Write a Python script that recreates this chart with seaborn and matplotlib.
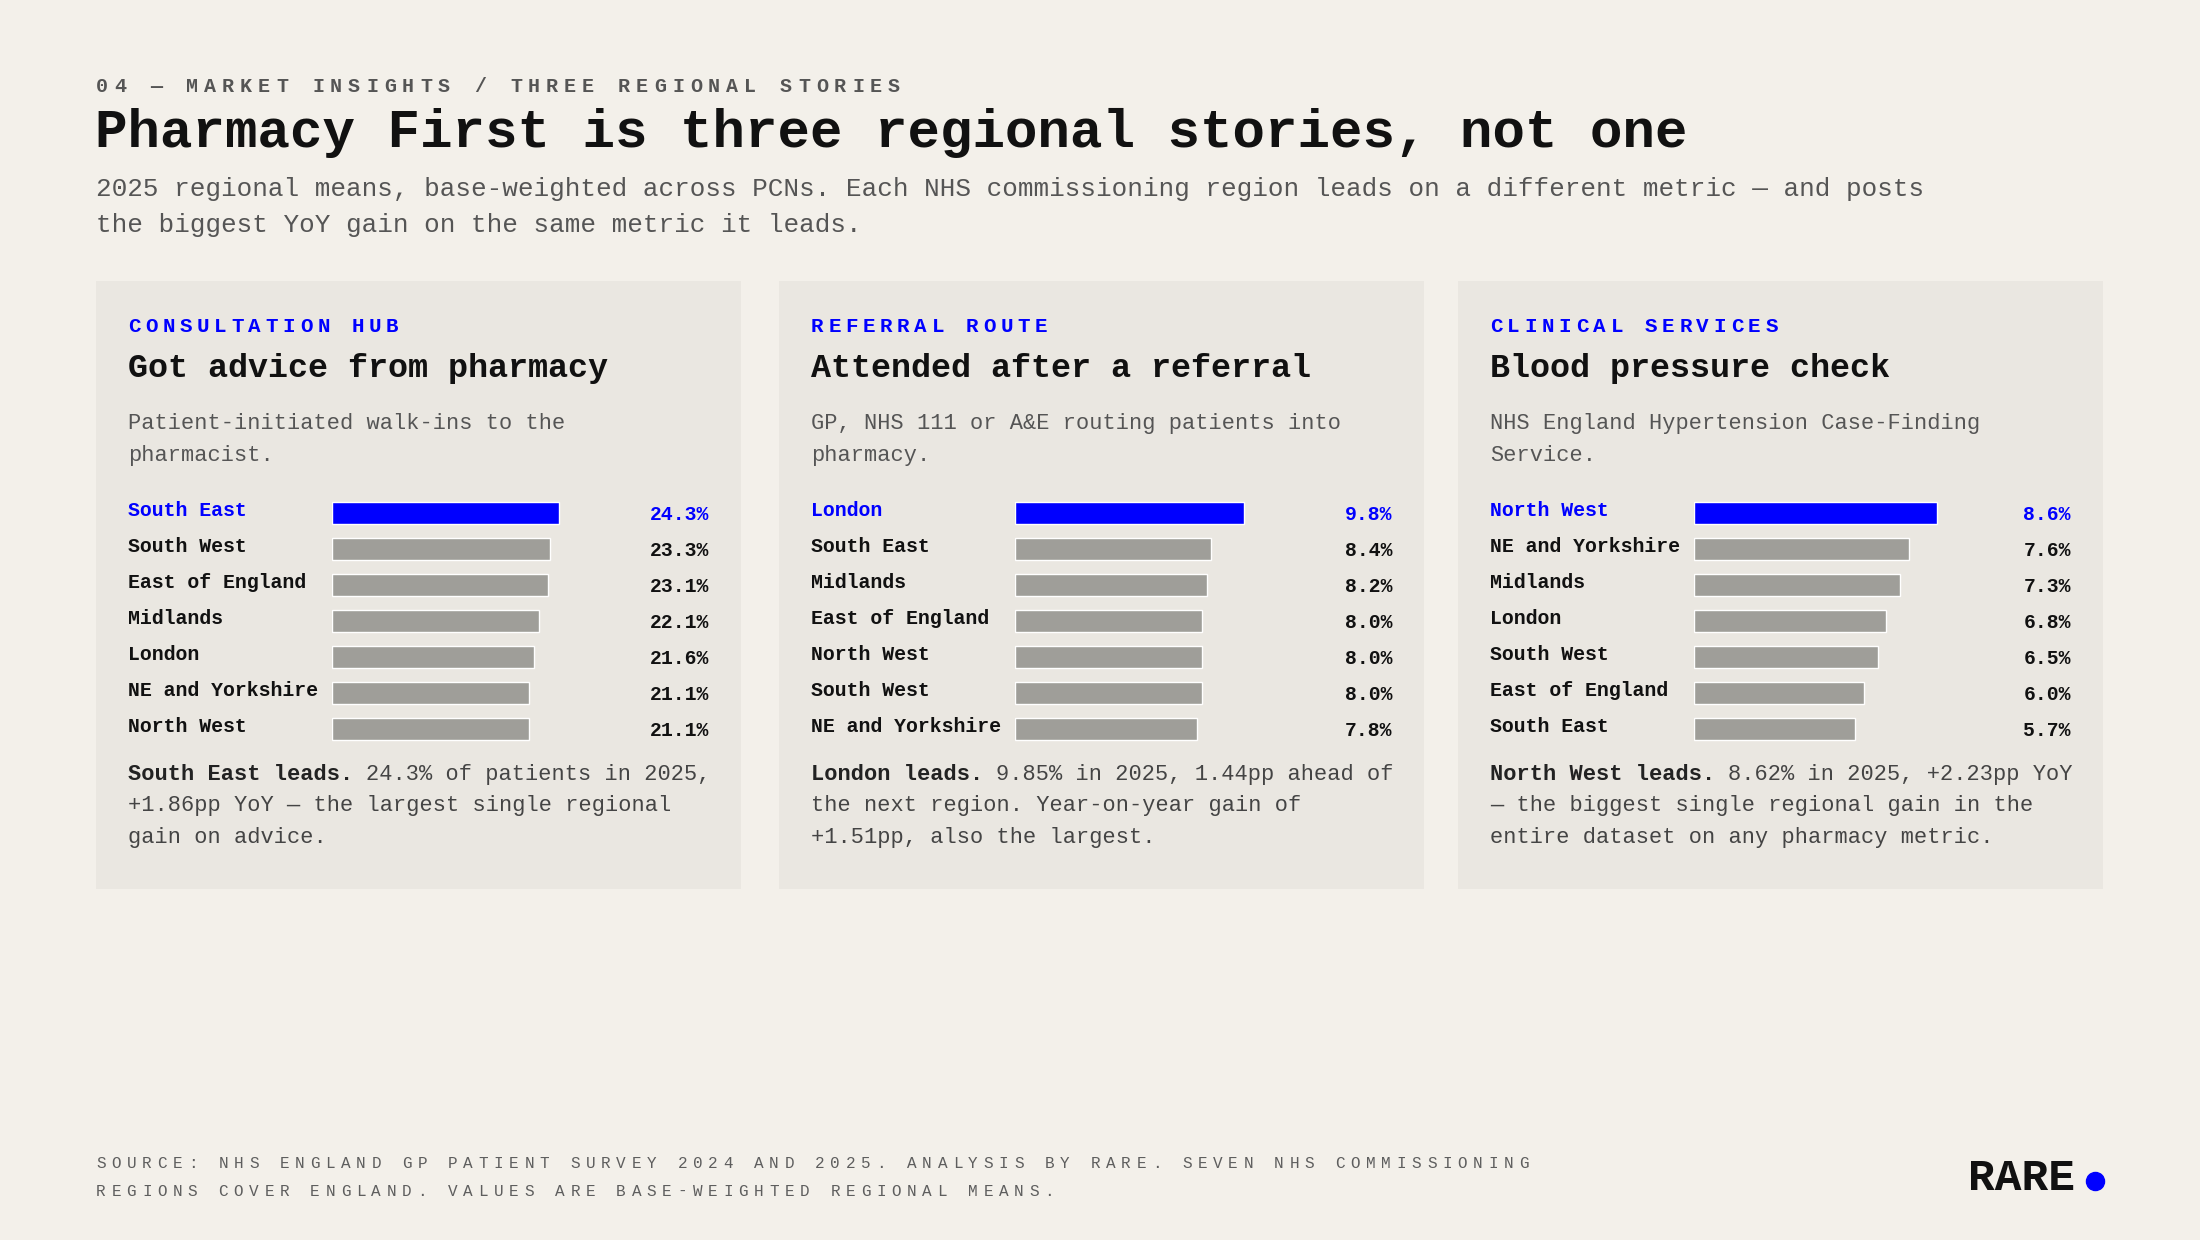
import matplotlib
matplotlib.use("Agg")
import matplotlib.pyplot as plt
import matplotlib.transforms as mtransforms
from matplotlib.lines import Line2D
from matplotlib.patches import Rectangle
import pandas as pd
import seaborn as sns

# %%
# data — 2025 regional means per card
advice_regions = ["South East", "South West", "East of England", "Midlands",
                  "London", "NE and Yorkshire", "North West"]
advice_values = [24.3, 23.3, 23.1, 22.1, 21.6, 21.1, 21.1]

referral_regions = ["London", "South East", "Midlands", "East of England",
                    "North West", "South West", "NE and Yorkshire"]
referral_values = [9.8, 8.4, 8.2, 8.0, 8.0, 8.0, 7.8]

bp_regions = ["North West", "NE and Yorkshire", "Midlands", "London",
              "South West", "East of England", "South East"]
bp_values = [8.6, 7.6, 7.3, 6.8, 6.5, 6.0, 5.7]

eyebrows = ["CONSULTATION HUB", "REFERRAL ROUTE", "CLINICAL SERVICES"]
headings = ["Got advice from pharmacy", "Attended after a referral", "Blood pressure check"]
descriptions = [
    ["Patient-initiated walk-ins to the", "pharmacist."],
    ["GP, NHS 111 or A&E routing patients into", "pharmacy."],
    ["NHS England Hypertension Case-Finding", "Service."],
]
lead_bold = ["South East leads.", "London leads.", "North West leads."]
lead_rest = [
    ["24.3% of patients in 2025,", "+1.86pp YoY — the largest single regional", "gain on advice."],
    ["9.85% in 2025, 1.44pp ahead of", "the next region. Year-on-year gain of", "+1.51pp, also the largest."],
    ["8.62% in 2025, +2.23pp YoY", "— the biggest single regional gain in the", "entire dataset on any pharmacy metric."],
]

kicker = "04 — MARKET INSIGHTS / THREE REGIONAL STORIES"
title = "Pharmacy First is three regional stories, not one"
subtitle = ["2025 regional means, base-weighted across PCNs. Each NHS commissioning region leads on a different metric — and posts",
            "the biggest YoY gain on the same metric it leads."]
source = ["SOURCE: NHS ENGLAND GP PATIENT SURVEY 2024 AND 2025. ANALYSIS BY RARE. SEVEN NHS COMMISSIONING",
          "REGIONS COVER ENGLAND. VALUES ARE BASE-WEIGHTED REGIONAL MEANS."]

# %%
BG = "#F3F0EA"
CARD = "#EAE7E1"
BLUE = "#0000FF"
GREY_BAR = "#9F9E99"
INK = "#111111"
MUTED = "#555555"

W, H = 2200, 1240
sns.set_theme(style="white")
plt.rcParams["font.family"] = ["Liberation Mono", "DejaVu Sans Mono", "DejaVu Sans"]


def fx(x):
    return x / W


def fy(y):
    return 1 - y / H


fig = plt.figure(figsize=(22, 12.4), dpi=100, facecolor=BG)


def spaced(x, y, s, size, advance, **kw):
    # letter-spaced caps: one glyph per step
    for i, ch in enumerate(s):
        if ch != " ":
            fig.text(fx(x + i * advance), fy(y), ch, fontsize=size,
                     ha="left", va="baseline", **kw)


# header
spaced(96, 92, kicker, 14.4, 18.0, color=MUTED, fontweight="bold")
fig.text(fx(95), fy(147), title, fontsize=39, fontweight="bold", color=INK, va="baseline")
for i, line in enumerate(subtitle):
    fig.text(fx(96), fy(196 + 36 * i), line, fontsize=18.7, color=MUTED, va="baseline")

# %%
cards = [
    (advice_regions, advice_values),
    (referral_regions, referral_values),
    (bp_regions, bp_values),
]
card_left = [96, 779, 1458]
bar_fill = [0.747, 0.753, 0.80]   # share of the bar track the leader fills
card_w = 645
top, bottom = 281, 889

for k, (regions, values) in enumerate(cards):
    L = card_left[k]
    fig.add_artist(Rectangle((fx(L), fy(bottom)), card_w / W, (bottom - top) / H,
                             transform=fig.transFigure, facecolor=CARD, edgecolor="none", zorder=0))

    spaced(L + 32, 332, eyebrows[k], 15, 17.2, color=BLUE, fontweight="bold")
    fig.text(fx(L + 32), fy(377), headings[k], fontsize=24, fontweight="bold", color=INK, va="baseline")
    for i, line in enumerate(descriptions[k]):
        fig.text(fx(L + 32), fy(429 + 32 * i), line, fontsize=15.8, color=MUTED, va="baseline")

    # bars
    df = pd.DataFrame({"region": regions, "value": values})
    colors = {r: (BLUE if i == 0 else GREY_BAR) for i, r in enumerate(regions)}
    ax = fig.add_axes([fx(L + 236), fy(747), 304 / W, 252 / H])
    sns.barplot(data=df, x="value", y="region", hue="region", palette=colors,
                orient="h", width=22 / 36, legend=False, ax=ax, saturation=1)
    ax.set_xlim(0, max(values) / bar_fill[k])
    ax.set_ylim(len(regions) - 0.5, -0.5)
    ax.axis("off")

    tr = mtransforms.blended_transform_factory(fig.transFigure, ax.transData)
    for i, (r, v) in enumerate(zip(regions, values)):
        c = BLUE if i == 0 else INK
        ax.text(fx(L + 32), i + 0.08, r, transform=tr, fontsize=14.3, fontweight="bold",
                color=c, ha="left", va="baseline")
        ax.text(fx(L + 613), i + 0.19, f"{v:.1f}%", transform=tr, fontsize=14.2,
                fontweight="bold", color=c, ha="right", va="baseline")

    # takeaway
    adv = 0.6 * 22
    fig.text(fx(L + 32), fy(780), lead_bold[k], fontsize=15.8, fontweight="bold",
             color="#222222", va="baseline")
    for i, line in enumerate(lead_rest[k]):
        x0 = L + 32 + (len(lead_bold[k]) + 1) * adv if i == 0 else L + 32
        fig.text(fx(x0), fy(780 + 31.5 * i), line, fontsize=15.8, color="#444444", va="baseline")

# %%
# footer
for i, line in enumerate(source):
    spaced(96, 1168 + 28 * i, line, 11.5, 15.3, color="#5E5E5E")

fig.text(fx(1968), fy(1190), "RARE", fontsize=32, fontweight="bold", color=INK, va="baseline")
fig.add_artist(Line2D([fx(2095)], [fy(1181)], marker="o", markersize=13, color=BLUE,
                      transform=fig.transFigure))

fig.savefig("out.png", dpi=100, facecolor=BG)
